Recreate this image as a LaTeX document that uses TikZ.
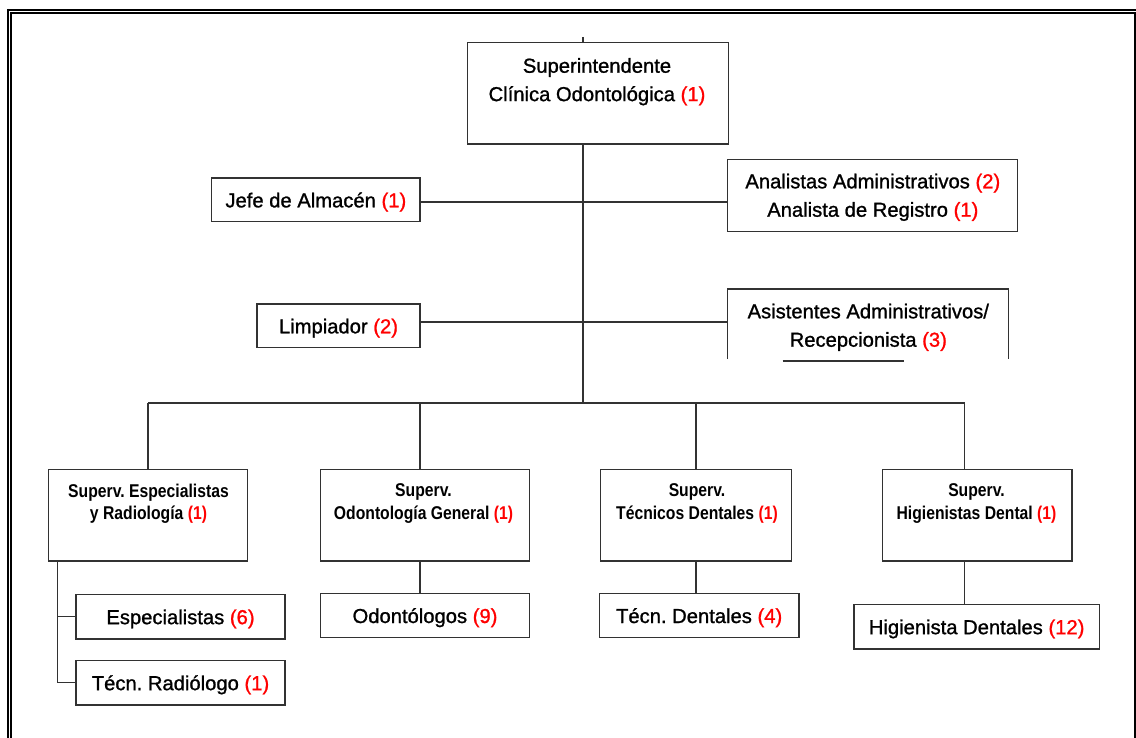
\documentclass[tikz,border=0pt]{standalone}
\usepackage{fontspec}
\setmainfont{Liberation Sans}
\newfontfamily\heavyfont[FakeBold=1.1]{Liberation Sans}
\newfontfamily\supfont[FakeStretch=0.85]{Liberation Sans}
\usetikzlibrary{calc}
\frenchspacing
\definecolor{edge}{RGB}{50,50,50}
\definecolor{count}{RGB}{255,0,0}
\newcommand{\cnt}[1]{\textcolor{count}{#1}}
\begin{document}
\begin{tikzpicture}[x=1pt,y=-1pt,
  box/.style={draw=edge, line width=1.5pt, fill=white, inner sep=0pt},
  lbl/.style={font=\heavyfont\fontsize{20.2}{28.4}\selectfont, align=center, inner sep=0pt},
  onel/.style={font=\heavyfont\fontsize{20.2}{28.4}\selectfont, text height=18pt, text depth=3pt},
  slbl/.style={font=\supfont\bfseries\fontsize{18.5}{22.8}\selectfont, align=center, inner sep=0pt},
  link/.style={draw=edge, line width=1.5pt},
  rule/.style={draw=black, line cap=butt}]
\useasboundingbox (0,0) rectangle (1136,738);

% page frame: double rule at top and left, single rule at right
\draw[rule, line width=2pt] (7,10) -- (1136,10);
\draw[rule, line width=2pt] (8,9) -- (8,738);
\draw[rule, line width=1.5pt] (10,12.8) -- (1136,12.8);
\draw[rule, line width=1.6pt] (10.8,12) -- (10.8,738);
\draw[rule, line width=1.6pt] (1134.8,12) -- (1134.8,738);

% ---- boxes ----
\node[box, minimum width=260.6, minimum height=101.3] (sup) at (598,93.35) {};
\node[box, onel, minimum width=208.3, minimum height=43.7] (jefe) at (315.85,199.85) {Jefe de Almacén \cnt{(1)}};
\node[box, minimum width=290, minimum height=72.4] (anal) at (872.7,195.5) {};
\node[box, onel, minimum width=163, minimum height=43.7] (limp) at (338.5,325.85) {Limpiador \cnt{(2)}};
\node[inner sep=0pt, minimum width=280.6, minimum height=69.7] (asis) at (868,324.15) {};

\node[box, minimum width=199, minimum height=91.7] (se) at (148.2,515.15) {};
\node[box, minimum width=208.6, minimum height=91.7] (og) at (425,515.15) {};
\node[box, minimum width=191.1, minimum height=91.7] (td) at (696.15,515.15) {};
\node[box, minimum width=189.5, minimum height=91.7] (hd) at (977.25,515.15) {};

\node[box, onel, minimum width=209, minimum height=44.7] (esp) at (180.5,616.65) {Especialistas \cnt{(6)}};
\node[box, onel, minimum width=209, minimum height=44.7] (rad) at (180.5,682.65) {Técn. Radiólogo \cnt{(1)}};
\node[box, onel, minimum width=208.6, minimum height=44.4] (odo) at (425,615.5) {Odontólogos \cnt{(9)}};
\node[box, onel, minimum width=199.3, minimum height=44.4] (tdd) at (699.15,615.5) {Técn. Dentales \cnt{(4)}};
\node[box, onel, minimum width=245.7, minimum height=44.7] (hdd) at (976.65,626.65) {Higienista Dentales \cnt{(12)}};

% ---- connectors ----
\coordinate (stub) at (583,37);
\coordinate (busL) at (148.2,403);
\coordinate (busR) at (964.6,403);
\draw[link] (stub) -- (stub |- sup.north);
\draw[link] (stub |- sup.south) -- (stub |- busL);
\draw[link] (busL) -- (busR);

\coordinate (jl) at ([yshift=-2pt]jefe.east);
\draw[link] (jl) -- (jl -| anal.west);
\coordinate (ll) at ([yshift=4pt]limp.east);
\draw[link] (ll) -- (ll -| asis.west);

% open-bottomed frame of the assistants box
\draw[link] (asis.south west) -- (asis.north west) -- (asis.north east) -- (asis.south east);
\draw[link] ([xshift=55pt,yshift=-2pt]asis.south west) -- ([xshift=176pt,yshift=-2pt]asis.south west);

\draw[link] (busL) -- (se.north);
\coordinate (ogx) at ([xshift=-5pt]og.north);
\draw[link] (ogx |- busL) -- (ogx);
\draw[link] (ogx |- og.south) -- (ogx |- odo.north);
\draw[link] (td.north |- busL) -- (td.north);
\draw[link] (td.south) -- (td.south |- tdd.north);
\draw[link] (busR) -- (busR |- hd.north);
\draw[link] (busR |- hd.south) -- (busR |- hdd.north);

\coordinate (brk) at ([xshift=9.6pt]se.south west);
\draw[link] (brk) |- (rad.west);
\draw[link] (brk |- esp.west) -- (esp.west);

% ---- multi-line labels ----
\node[lbl] (supT) at (597,81.7) {Superintendente\\Clínica Odontológica \cnt{(1)}};
\node[lbl] (analT) at (872.8,197.3) {Analistas Administrativos \cnt{(2)}\\Analista de Registro \cnt{(1)}};
\node[lbl] (asisT) at (868.3,327.3) {Asistentes Administrativos/\\Recepcionista \cnt{(3)}};

\node[slbl] (seT) at (148.5,503.7) {Superv. Especialistas\\y Radiología \cnt{(1)}};
\node[slbl] (ogT) at (423.5,503.7) {Superv.\\Odontología General \cnt{(1)}};
\node[slbl] (tdT) at (697,503.7) {Superv.\\Técnicos Dentales \cnt{(1)}};
\node[slbl] (hdT) at (976.5,503.7) {Superv.\\Higienistas Dental \cnt{(1)}};
\end{tikzpicture}
\end{document}
